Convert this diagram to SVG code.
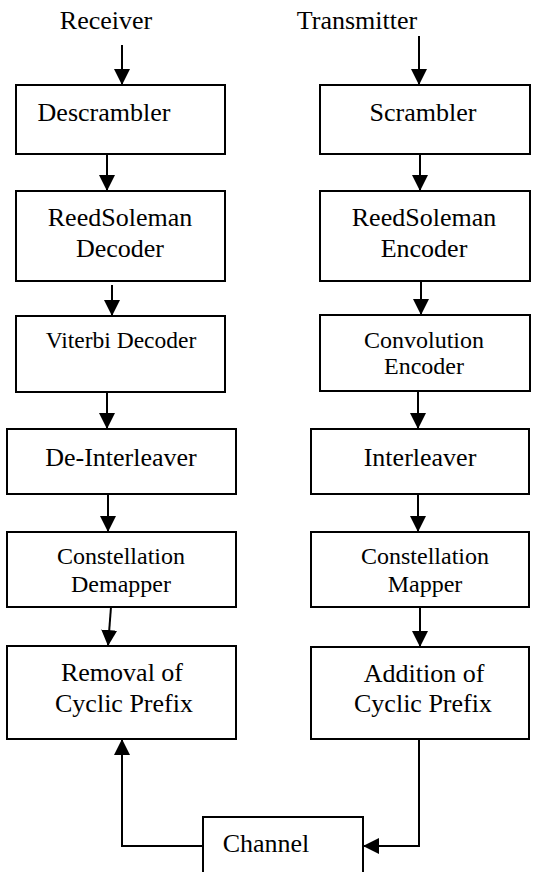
<svg xmlns="http://www.w3.org/2000/svg" width="535" height="872" viewBox="0 0 535 872">
<defs>
<marker id="ah" viewBox="0 0 16 16" refX="16" refY="8" markerWidth="16" markerHeight="16" markerUnits="userSpaceOnUse" orient="auto">
<path d="M0,0 L16,8 L0,16 z" fill="#000"/>
</marker>
</defs>
<style>
text{font-family:"Liberation Serif","Times New Roman",serif;font-size:26px;fill:#000;text-anchor:middle}
.s{font-size:24px}
.sm{font-size:23.5px}
rect{fill:#fff;stroke:#000;stroke-width:2}
.c line,.c polyline{stroke:#000;stroke-width:2;fill:none;marker-end:url(#ah)}
</style>
<rect x="0" y="0" width="535" height="872" style="stroke:none;fill:#fff"/>
<g id="lbl-receiver"><text x="106" y="29">Receiver</text></g>
<g id="lbl-transmitter"><text x="357" y="29">Transmitter</text></g>

<g id="descrambler"><rect x="16" y="85" width="209" height="69"/><text x="104" y="121">Descrambler</text></g>
<g id="scrambler"><rect x="320" y="85" width="210" height="69"/><text x="423" y="121">Scrambler</text></g>

<g id="rs-decoder"><rect x="16" y="191" width="209" height="90"/><text x="120" y="226">ReedSoleman</text><text x="120" y="257">Decoder</text></g>
<g id="rs-encoder"><rect x="320" y="191" width="210" height="90"/><text x="424" y="226">ReedSoleman</text><text x="424" y="257">Encoder</text></g>

<g id="viterbi"><rect x="16" y="316" width="209" height="76"/><text class="sm" x="121" y="348">Viterbi Decoder</text></g>
<g id="conv-encoder"><rect x="320" y="315" width="210" height="76"/><text class="s" x="424" y="348">Convolution</text><text class="s" x="424" y="374">Encoder</text></g>

<g id="deinterleaver"><rect x="7" y="429" width="229" height="65"/><text x="121" y="466">De-Interleaver</text></g>
<g id="interleaver"><rect x="311" y="429" width="218" height="65"/><text x="420" y="466">Interleaver</text></g>

<g id="demapper"><rect x="7" y="532" width="229" height="75"/><text class="s" x="121" y="564">Constellation</text><text class="s" x="121" y="592">Demapper</text></g>
<g id="mapper"><rect x="311" y="532" width="218" height="75"/><text class="s" x="425" y="564">Constellation</text><text class="s" x="425" y="592">Mapper</text></g>

<g id="removal-cp"><rect x="7" y="646" width="229" height="93"/><text x="122" y="681">Removal of</text><text x="124" y="712">Cyclic Prefix</text></g>
<g id="addition-cp"><rect x="311" y="647" width="218" height="92"/><text x="424" y="682">Addition of</text><text x="423" y="712">Cyclic Prefix</text></g>

<g id="channel"><rect x="203" y="817" width="160" height="70"/><text x="266" y="852">Channel</text></g>

<g id="connectors" class="c">
<line x1="122" y1="45" x2="122" y2="85"/>
<line x1="419" y1="36" x2="419" y2="85"/>
<line x1="107" y1="154" x2="107" y2="191"/>
<line x1="420" y1="154" x2="420" y2="191"/>
<line x1="112" y1="285" x2="112" y2="316"/>
<line x1="421" y1="281" x2="421" y2="315"/>
<line x1="107" y1="392" x2="107" y2="429"/>
<line x1="418" y1="391" x2="418" y2="429"/>
<line x1="108" y1="494" x2="108" y2="532"/>
<line x1="418" y1="494" x2="418" y2="532"/>
<line x1="111" y1="607" x2="108" y2="646"/>
<line x1="420" y1="607" x2="420" y2="647"/>
<polyline points="203,846 122,846 122,739"/>
<polyline points="419,739 419,846 363,846"/>
</g>
</svg>
